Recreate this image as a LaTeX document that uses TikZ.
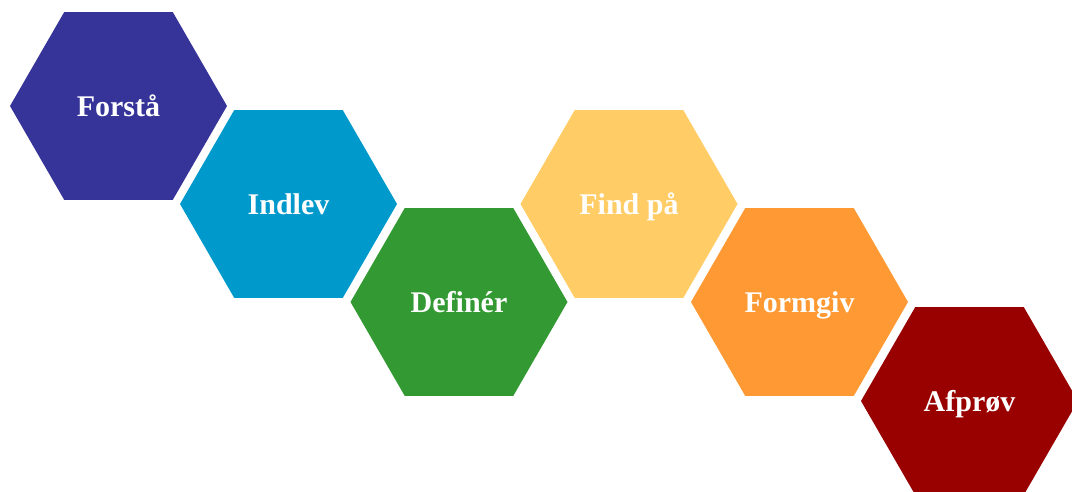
\documentclass[tikz,border=0pt]{standalone}
\usepackage{fontspec}
\setmainfont{Liberation Serif}
\usepackage{tikz}
\usetikzlibrary{shapes.geometric}

\definecolor{forstaa}{HTML}{363399}
\definecolor{indlev}{HTML}{0099CC}
\definecolor{definer}{HTML}{339933}
\definecolor{findpaa}{HTML}{FFCC66}
\definecolor{formgiv}{HTML}{FF9933}
\definecolor{afproev}{HTML}{990000}

\begin{document}
\begin{tikzpicture}[x=1pt,y=1pt,
	hexa/.style={regular polygon,regular polygon sides=6,minimum size=217pt,inner sep=0pt,outer sep=0pt,fill=#1,text=white,text height=25pt,text depth=3pt,font=\fontsize{30}{30}\selectfont\bfseries}]
\useasboundingbox (0,0) rectangle (1072,492);
\clip (0,0) rectangle (1072,492);
\node [hexa=forstaa] (f) at (118.5,386) {Forstå};
\node [hexa=indlev] (i) at (288.5,288) {Indlev};
\node [hexa=definer] (d) at (459,190) {Definér};
\node [hexa=findpaa] (p) at (629,288) {Find på};
\node [hexa=formgiv] (g) at (799.5,190) {Formgiv};
\node [hexa=afproev] (a) at (969.5,91) {Afprøv};
\end{tikzpicture}
\end{document}
